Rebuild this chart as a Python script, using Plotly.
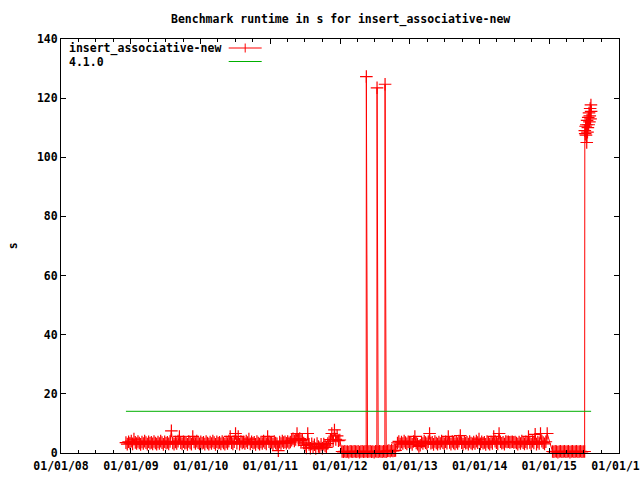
import pandas as pd
import plotly.graph_objects as go

# ---------------- data (weekly samples) ----------------
seg_a_start = "2008-12-06"
seg_a_values = [3.5, 3.0, 3.8, 3.3, 4.0, 3.1, 4.7, 3.6, 3.2, 3.9,
                3.4, 2.9, 3.7, 3.2, 4.0, 3.5, 3.0, 3.8, 3.3, 3.6,
                3.1, 3.9, 3.4, 3.0, 3.7, 3.2, 4.0, 3.5, 2.9, 3.8,
                3.3, 3.6, 3.1, 3.9, 7.5, 3.4, 3.0, 3.7, 3.2, 4.0,
                5.6, 3.5, 3.1, 3.8, 3.3, 3.6, 2.9, 3.9, 3.4, 3.0,
                5.6, 3.7, 3.2, 4.0, 3.5, 3.1, 3.8, 3.3, 3.6, 3.0,
                3.9, 3.4, 3.0, 3.7, 3.2, 4.0, 3.5, 2.9, 3.8, 3.3,
                3.6, 3.1, 3.9, 3.4, 3.0, 3.7, 3.2, 4.0, 5.6, 3.5,
                3.1, 3.8, 6.6, 3.3, 5.6, 3.0, 3.9, 3.4, 3.7, 3.2,
                4.0, 3.5, 4.7, 3.1, 3.8, 3.3, 3.6, 2.9, 3.9, 3.4,
                3.0, 3.7, 3.2, 4.0, 3.5, 3.1, 5.6, 3.8, 3.3, 3.6,
                3.0, 3.9, 3.4, 3.1, 0.8, 3.7, 3.2, 4.0, 3.5, 3.8,
                3.3, 3.9, 3.4, 3.7, 4.3, 4.8, 4.1, 4.6, 6.6, 4.4,
                4.9, 4.2, 4.6, 3.4, 2.6, 1.7, 6.6, 2.9, 1.6, 3.1,
                2.0, 2.8, 1.5, 3.2, 2.2, 1.8, 2.9, 1.6, 3.0, 2.4,
                1.9, 3.2, 3.8, 4.5, 6.6, 4.1, 7.8, 4.6, 5.8, 4.2,
                4.4]

zero1_start = "2012-01-12"
zero1_values = [0.5, 0.4, 0.6, 0.4, 0.5, 0.3, 0.6, 0.5, 0.4, 0.6,
                0.5, 0.4, 0.6, 0.3, 0.5, 0.6, 0.4, 0.5, 0.6, 0.4,
                0.5, 0.6, 0.4, 0.5, 0.3, 0.6, 0.5, 0.4, 0.6, 0.5,
                0.4, 0.6, 0.5, 0.4, 0.7, 0.8, 0.6, 0.9, 0.7, 0.8,
                0.9]
spike_dates = ["2012-05-18", "2012-07-13", "2012-08-24"]
spike_values = [127.3, 123.5, 124.7]

seg_b_start = "2012-10-28"
seg_b_values = [3.4, 3.9, 3.0, 3.7, 3.2, 4.0, 3.5, 3.1, 3.8, 3.3,
                3.6, 2.9, 3.9, 5.6, 3.4, 3.0, 2.2, 2.6, 3.7, 3.2,
                4.0, 3.5, 3.1, 3.8, 6.6, 3.3, 3.6, 2.9, 3.9, 3.4,
                3.0, 3.7, 3.2, 4.0, 3.5, 3.1, 3.8, 3.3, 5.6, 3.6,
                3.0, 3.9, 3.4, 3.1, 3.7, 3.2, 4.0, 5.9, 3.5, 2.9,
                3.8, 3.3, 3.6, 3.0, 3.9, 3.4, 3.1, 3.7, 3.2, 4.0,
                3.5, 4.7, 3.1, 3.8, 3.3, 3.6, 2.9, 3.9, 3.4, 3.0,
                3.7, 3.2, 5.6, 4.0, 3.5, 3.1, 6.6, 3.8, 3.3, 3.6,
                3.0, 3.9, 3.7, 3.8, 3.6, 3.7, 3.8, 3.6, 3.7, 3.4,
                3.0, 3.7, 3.2, 4.0, 3.5, 3.1, 3.8, 3.3, 5.6, 3.6,
                2.9, 3.9, 3.4, 6.3, 3.0, 3.7, 3.2, 6.6, 4.0, 3.5,
                3.1, 3.8, 6.6]

zero2_start = "2015-01-18"
zero2_values = [0.5, 0.4, 0.6, 0.5, 0.3, 0.5, 0.6, 0.4, 0.5, 0.6,
                0.4, 0.5, 0.6, 0.3, 0.5, 0.6, 0.4, 0.5, 0.6, 0.4,
                0.5, 0.6, 0.4, 0.5, 0.5]

cluster_dates = ["2015-07-06", "2015-07-08", "2015-07-10", "2015-07-12", "2015-07-14",
                 "2015-07-16", "2015-07-18", "2015-07-20", "2015-07-22", "2015-07-24",
                 "2015-07-26", "2015-07-28", "2015-07-30", "2015-08-01", "2015-08-03",
                 "2015-08-05", "2015-08-07", "2015-08-08"]
cluster_values = [109.0, 108.0, 110.5, 107.5, 111.0,
                  105.0, 112.5, 108.5, 110.0, 113.5,
                  111.0, 115.0, 112.0, 114.0, 116.5,
                  113.0, 117.7, 115.5]

ref_label = "4.1.0"
ref_dates = ["2008-12-06", "2015-08-08"]
ref_values = [14.1, 14.1]

series_name = "insert_associative-new"
title_text = "Benchmark runtime in s for insert_associative-new"
y_ticks = [0, 20, 40, 60, 80, 100, 120, 140]

# ---------------- assemble ----------------
def seg(start, values):
    d = pd.date_range(start, periods=len(values), freq="7D")
    return list(d), list(values)

parts = [seg(seg_a_start, seg_a_values),
         seg(zero1_start, zero1_values),
         (list(pd.to_datetime(spike_dates)), spike_values),
         seg(seg_b_start, seg_b_values),
         seg(zero2_start, zero2_values),
         (list(pd.to_datetime(cluster_dates)), cluster_values)]
df = pd.DataFrame({"x": sum([p[0] for p in parts], []),
                   "y": sum([list(p[1]) for p in parts], [])}).sort_values("x", kind="stable")

FONT = "DejaVu Sans Mono"
RED = "#ff0000"
GREEN = "#00b000"
TXT = dict(family=FONT, size=11.5, color="black", weight="bold")

fig = go.Figure()
fig.add_trace(go.Scatter(
    x=df["x"], y=df["y"], mode="lines+markers", name=series_name,
    line=dict(color=RED, width=1),
    marker=dict(symbol="cross-thin", size=9, line=dict(color=RED, width=1.2), color=RED),
    cliponaxis=False, showlegend=False))
fig.add_trace(go.Scatter(
    x=ref_dates, y=ref_values, mode="lines", name=ref_label,
    line=dict(color=GREEN, width=1), showlegend=False))

# plot area geometry (pixels)
L, R, T, B = 61.3, 619.3, 39.0, 453.0
W, H = R - L, B - T
def px(x):
    return (x - L) / W
def py(y):
    return (B - y) / H

shapes = [
    dict(type="line", xref="paper", yref="paper", x0=px(229), x1=px(262), y0=py(48), y1=py(48),
         line=dict(color=RED, width=1)),
    dict(type="line", xref="paper", yref="paper", x0=px(245.5), x1=px(245.5), y0=py(43.5), y1=py(52.5),
         line=dict(color=RED, width=1)),
    dict(type="line", xref="paper", yref="paper", x0=px(229), x1=px(262), y0=py(61.5), y1=py(61.5),
         line=dict(color=GREEN, width=1)),
]
annotations = [
    dict(text=series_name, xref="paper", yref="paper", x=px(67.5), y=py(48.5),
         xanchor="left", yanchor="middle", showarrow=False, font=TXT),
    dict(text=ref_label, xref="paper", yref="paper", x=px(67.5), y=py(62),
         xanchor="left", yanchor="middle", showarrow=False, font=TXT),
    dict(text="s", xref="paper", yref="paper", x=px(13.5), y=py(246), textangle=-90,
         xanchor="center", yanchor="middle", showarrow=False, font=TXT),
    dict(text=title_text, xref="paper", yref="paper", x=0.5, y=py(19.5),
         xanchor="center", yanchor="middle", showarrow=False, font=TXT),
]

fig.update_layout(
    template="none",
    width=640, height=480,
    margin=dict(l=L, r=640 - R, t=T, b=480 - B, pad=0),
    paper_bgcolor="white", plot_bgcolor="white",
    font=TXT,
    showlegend=False,
    shapes=shapes, annotations=annotations,
    xaxis=dict(type="date", range=["2008-01-01", "2016-01-01"], dtick="M12",
               tick0="2008-01-01", tickformat="%m/%d/%y",
               ticks="inside", ticklen=5, tickwidth=1, tickcolor="black",
               ticklabelstandoff=2, ticklabeloverflow="allow",
               minor=dict(ticks="inside", ticklen=3, dtick="M3", tickcolor="black", tickwidth=1),
               showline=True, linecolor="black", linewidth=1, mirror="allticks",
               showgrid=False, zeroline=False, automargin=False, tickfont=TXT),
    yaxis=dict(range=[0, 140], tickvals=y_ticks,
               ticks="inside", ticklen=5, tickwidth=1, tickcolor="black",
               showline=True, linecolor="black", linewidth=1, mirror="allticks",
               showgrid=False, zeroline=False, automargin=False, tickfont=TXT),
)

fig.write_html("out.html",
               config={"displayModeBar": False},
               post_script="document.body.style.margin='0';document.body.style.overflow='hidden';")
